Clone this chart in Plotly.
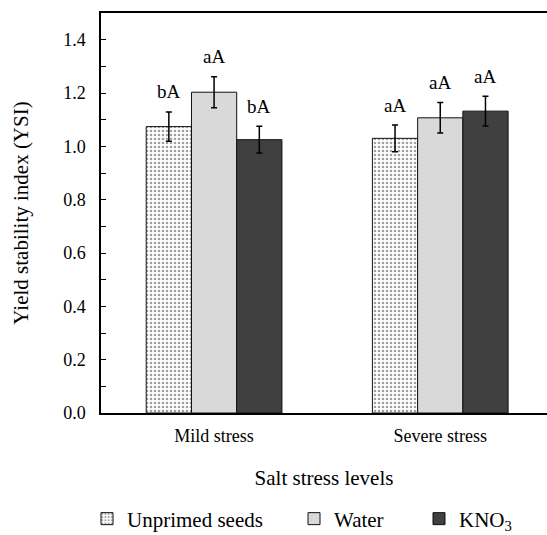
import plotly.graph_objects as go

categories = ["Mild stress", "Severe stress"]
series_names = ["Unprimed seeds", "Water", "KNO<sub>3</sub>"]
unprimed = [1.074, 1.030]
unprimed_err = [0.055, 0.050]
water = [1.203, 1.107]
water_err = [0.058, 0.057]
kno3 = [1.025, 1.132]
kno3_err = [0.050, 0.056]
letters_unprimed = ["bA", "aA"]
letters_water = ["aA", "aA"]
letters_kno3 = ["bA", "aA"]
y_ticks = [0.0, 0.2, 0.4, 0.6, 0.8, 1.0, 1.2, 1.4]

W, H = 547, 535
FONT = "Liberation Serif, Times New Roman, Times, serif"
FS_TICK = 18
FS_TITLE = 21
FS_LEG = 21
FS_ANN = 19

values = [unprimed, water, kno3]
errors = [unprimed_err, water_err, kno3_err]
letters = [letters_unprimed, letters_water, letters_kno3]
offsets = [-0.2, 0.0, 0.2]
bar_w = 0.2
styles = [
    dict(color="white", pattern=dict(shape=".", fgcolor="#444444", bgcolor="white", size=4, solidity=0.35)),
    dict(color="#d9d9d9"),
    dict(color="#404040"),
]
legend_ids = ["legend", "legend2", "legend3"]
legend_x = [87, 294, 419]

fig = go.Figure()
for j in range(3):
    xs = [i + offsets[j] for i in range(len(categories))]
    fig.add_trace(go.Bar(
        x=xs, y=values[j], width=bar_w, name=series_names[j],
        marker=dict(line=dict(color="#111111", width=1), **styles[j]),
        error_y=dict(type="data", array=errors[j], color="black", thickness=1.5, width=3),
        legend=legend_ids[j],
    ))
    for i in range(len(categories)):
        fig.add_annotation(
            x=xs[i], y=values[j][i] + errors[j][i], text=letters[j][i],
            showarrow=False, yanchor="middle", yshift=20,
            font=dict(family=FONT, size=FS_ANN, color="black"),
        )

layout_legends = {}
for j, lid in enumerate(legend_ids):
    layout_legends[lid] = dict(
        x=legend_x[j] / W, y=1 - 519 / H, xref="container", yref="container",
        xanchor="left", yanchor="middle", orientation="h",
        font=dict(family=FONT, size=FS_LEG, color="black"),
        bgcolor="rgba(0,0,0,0)", itemclick=False,
    )

fig.update_layout(
    width=W, height=H,
    margin=dict(l=101, r=0, t=13, b=122),
    plot_bgcolor="white", paper_bgcolor="white",
    barmode="overlay",
    showlegend=True,
    font=dict(family=FONT, size=FS_TICK, color="black"),
    **layout_legends,
)
fig.update_xaxes(
    range=[-0.5, 1.472], tickvals=list(range(len(categories))), ticktext=categories,
    showline=True, linecolor="black", linewidth=1.5, mirror=True,
    ticks="", showgrid=False, zeroline=False,
    ticklabelstandoff=6,
    tickfont=dict(family=FONT, size=FS_TICK),
    title=dict(text="Salt stress levels", font=dict(family=FONT, size=FS_TITLE), standoff=25),
)
fig.update_yaxes(
    range=[0, 1.5], tickvals=y_ticks, ticktext=[f"{v:.1f}" for v in y_ticks],
    showline=True, linecolor="black", linewidth=1.5, mirror=False,
    ticks="inside", ticklen=5, tickwidth=1, tickcolor="black",
    ticklabelstandoff=10,
    minor=dict(dtick=0.1, ticks="inside", ticklen=5, tickwidth=1, tickcolor="black", showgrid=False),
    showgrid=False, zeroline=False,
    tickfont=dict(family=FONT, size=FS_TICK),
    title=dict(text="Yield stability index (YSI)", font=dict(family=FONT, size=FS_TITLE), standoff=29),
)
fig.write_html("out.html")
